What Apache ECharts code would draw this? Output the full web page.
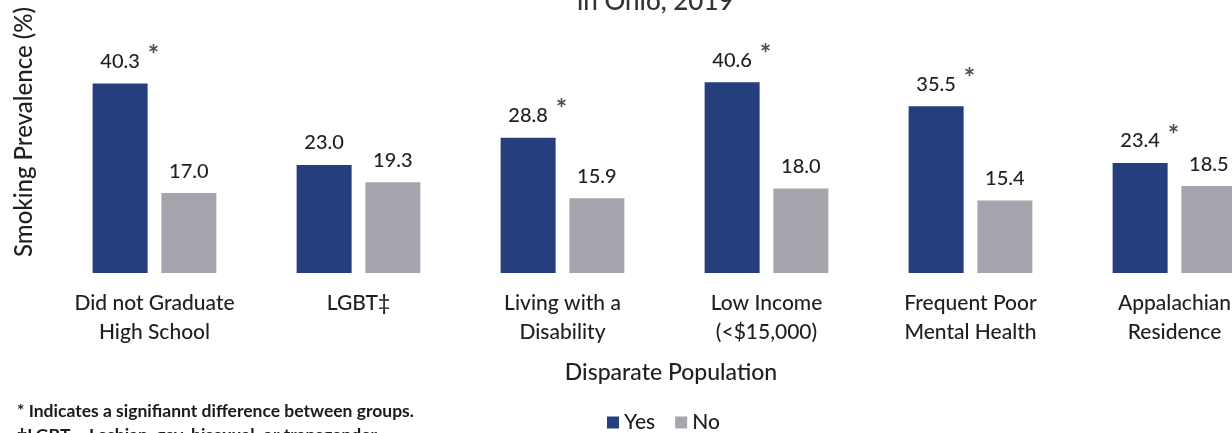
<!DOCTYPE html>
<html>
<head>
<meta charset="utf-8">
<script src="https://cdn.jsdelivr.net/npm/echarts@6/dist/echarts.min.js"></script>
<style>
html,body{margin:0;padding:0;background:#fff;}
#chart{width:1232px;height:433px;}
</style>
</head>
<body>
<div id="chart"></div>
<script>
const categories = ['Did not Graduate\nHigh School', 'LGBT‡', 'Living with a\nDisability', 'Low Income\n(<$15,000)', 'Frequent Poor\nMental Health', 'Appalachian\nResidence'];
const yesValues = [40.3, 23.0, 28.8, 40.6, 35.5, 23.4];
const noValues = [17.0, 19.3, 15.9, 18.0, 15.4, 18.5];
const significant = [true, false, true, true, true, true];
const seriesNames = ['Yes', 'No'];

const FONT = 'Lato, "Open Sans", sans-serif';
const TXT = '#1f1f1f';

const chart = echarts.init(document.getElementById('chart'), null, {renderer: 'canvas'});

const starData = [];
significant.forEach((s, i) => { if (s) starData.push([i, yesValues[i]]); });

chart.setOption({
  animation: false,
  backgroundColor: '#ffffff',
  textStyle: {fontFamily: FONT},
  grid: {left: 52.5, width: 1224, top: 38, bottom: 160, containLabel: false, outerBoundsMode: 'none'},
  legend: {
    data: seriesNames,
    left: 607, top: 412, padding: 0,
    icon: 'rect', itemWidth: 12, itemHeight: 12, itemGap: 20,
    textStyle: {fontFamily: FONT, fontSize: 21, fontWeight: 500, color: TXT}
  },
  xAxis: {
    type: 'category',
    data: categories,
    axisLine: {show: false},
    axisTick: {show: false},
    axisLabel: {fontFamily: FONT, fontSize: 21, fontWeight: 500, color: TXT, lineHeight: 29, margin: 16, interval: 0, hideOverlap: false}
  },
  yAxis: {
    type: 'value', min: 0, max: 50,
    show: false,
    splitLine: {show: false}
  },
  graphic: [
    {type: 'text', x: 577, y: 2, style: {text: 'in Ohio, 2019', font: '500 26px ' + FONT, fill: '#333', textVerticalAlign: 'middle'}},
    {type: 'text', x: 24, y: 132, rotation: Math.PI / 2, style: {text: 'Smoking Prevalence (%)', font: '500 24px ' + FONT, fill: TXT, textAlign: 'center', textVerticalAlign: 'middle'}},
    {type: 'text', x: 671, y: 373, style: {text: 'Disparate Population', font: '500 23px ' + FONT, fill: TXT, textAlign: 'center', textVerticalAlign: 'middle'}},
    {type: 'text', x: 17, y: 411, style: {text: '* Indicates a signifiannt difference between groups.', font: 'bold 17.5px ' + FONT, fill: '#1a1a1a', textVerticalAlign: 'middle'}},
    {type: 'text', x: 17, y: 435, style: {text: '‡LGBT – Lesbian, gay, bisexual, or transgender', font: 'bold 17.5px ' + FONT, fill: '#1a1a1a', textVerticalAlign: 'middle'}}
  ],
  series: [
    {
      name: seriesNames[0], type: 'bar', data: yesValues,
      barWidth: 55, barGap: '25%',
      itemStyle: {color: '#243f7b'},
      label: {show: true, position: 'top', distance: 12, fontFamily: FONT, fontSize: 20, fontWeight: 500, color: TXT,
        formatter: p => p.value.toFixed(1)}
    },
    {
      name: seriesNames[1], type: 'bar', data: noValues,
      barWidth: 55,
      itemStyle: {color: '#a5a5ae'},
      label: {show: true, position: 'top', distance: 12, fontFamily: FONT, fontSize: 20, fontWeight: 500, color: TXT,
        formatter: p => p.value.toFixed(1)}
    },
    {
      name: 'sig', type: 'scatter', data: starData,
      symbol: 'circle', symbolSize: 1, itemStyle: {color: 'rgba(0,0,0,0)'},
      silent: true,
      label: {show: true, position: 'inside', offset: [-1, -28], formatter: '*', fontFamily: FONT, fontSize: 27, fontWeight: 'bold', color: TXT}
    }
  ]
});
</script>
</body>
</html>
